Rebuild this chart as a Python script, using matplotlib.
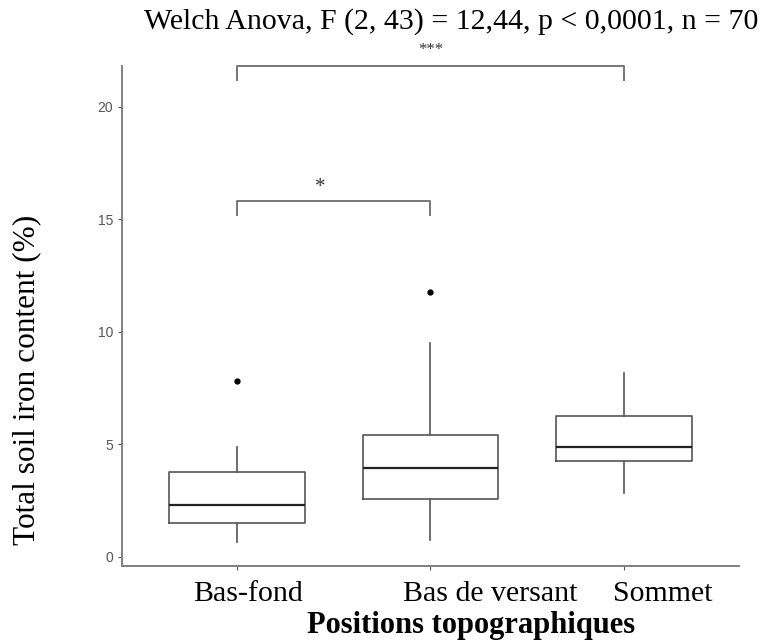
import matplotlib
matplotlib.use("Agg")
import matplotlib.pyplot as plt
import matplotlib.transforms as mtransforms

# values
positions = ["Bas-fond", "Bas de versant", "Sommet"]
whislo = [0.68, 0.76, 2.83]
q1 = [1.50, 2.58, 4.27]
med = [2.31, 3.97, 4.90]
q3 = [3.79, 5.42, 6.25]
whishi = [4.90, 9.52, 8.19]
fliers = [[7.82], [11.78], []]
yticks = [0, 5, 10, 15, 20]

title = "Welch Anova, F (2, 43) = 12,44, p < 0,0001, n = 70"
serif = ["Liberation Serif", "DejaVu Serif"]

stats = []
for i in range(len(positions)):
    stats.append(dict(whislo=whislo[i], q1=q1[i], med=med[i], q3=q3[i],
                      whishi=whishi[i], fliers=fliers[i], label=positions[i]))

fig = plt.figure(figsize=(7.67, 6.42), dpi=100)
ax = fig.add_axes([0.159, 0.1184, 0.8045, 0.7786])

ax.bxp(stats, positions=[1, 2, 3], widths=0.7, showcaps=False, patch_artist=False,
       boxprops=dict(color="#555555", linewidth=1.2),
       whiskerprops=dict(color="#555555", linewidth=1.2),
       medianprops=dict(color="#222222", linewidth=1.6),
       flierprops=dict(marker="o", markersize=3.5, markerfacecolor="black",
                       markeredgecolor="black"))

ax.set_xlim(0.406, 3.594)
ax.set_ylim(-0.4, 21.8)
ax.set_yticks(yticks)
ax.set_yticklabels([str(t) for t in yticks], fontsize=10, color="#555555",
                   family="Liberation Sans")
ax.set_xticks([1, 2, 3])
ax.set_xticklabels([])
ax.tick_params(axis="both", length=3, color="#555555")
for s in ["top", "right"]:
    ax.spines[s].set_visible(False)
for s in ["left", "bottom"]:
    ax.spines[s].set_color("#808080")
    ax.spines[s].set_linewidth(1.4)

# category labels (offset as in the original)
trans = mtransforms.blended_transform_factory(ax.transData, fig.transFigure)
for x, lab in zip([1.057, 2.31, 3.20], positions):
    ax.text(x, 1 - 594 / 642, lab, transform=trans, ha="center", va="center",
            fontsize=21.5, family=serif)
fig.text(471 / 767, 1 - 626 / 642, "Positions topographiques", ha="center",
         va="center", fontsize=22, fontweight="bold", family=serif)
fig.text(27 / 767, 1 - 380 / 642, "Total soil iron content (%)", ha="center",
         va="center", rotation=90, fontsize=22.5, family=serif)
fig.text(451 / 767, 1 - 22 / 642, title, ha="center", va="center",
         fontsize=21.5, family=serif)

# significance brackets
bcol = "#777777"
ax.plot([1, 1, 3, 3], [21.2, 21.8, 21.8, 21.2], color=bcol, lw=1.4, clip_on=False)
ax.text(2, 22.5, "***", ha="center", va="center", fontsize=12, family=serif,
        color="#333333")
ax.plot([1, 1, 2, 2], [15.2, 15.82, 15.82, 15.2], color=bcol, lw=1.4, clip_on=False)
ax.text(1.43, 16.4, "*", ha="center", va="center", fontsize=15, family=serif,
        color="#333333")

fig.savefig("out.png", dpi=100)
